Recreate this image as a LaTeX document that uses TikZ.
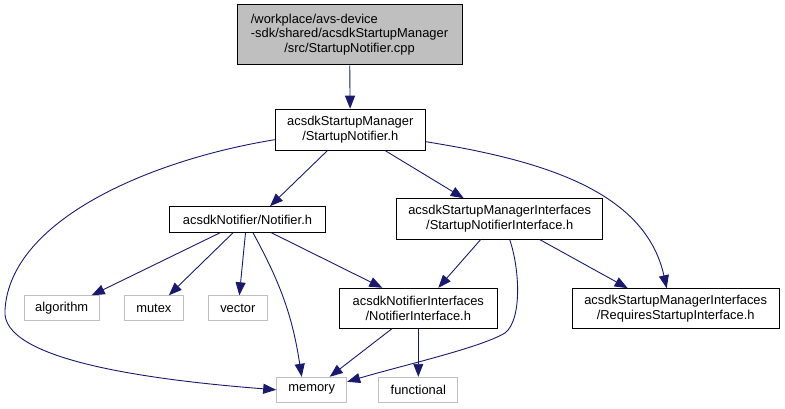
\documentclass[tikz,border=0pt]{standalone}
\usepackage{fontspec}
\setmainfont{Liberation Sans}
\usepackage{xcolor}
\usetikzlibrary{arrows.meta, positioning}

\definecolor{incblue}{HTML}{191970}
\definecolor{sysgray}{HTML}{BFBFBF}

\begin{document}
\begin{tikzpicture} [
	x=1pt, y=-1pt, % pixel grid, y grows downwards
	>={Triangle[length=13pt, width=10pt]}, % filled heads like dot
	every edge/.append style={->}, % every include edge is directed
	font=\fontsize{12.9}{14.7}\selectfont,
	hdr/.style={draw=black, line width=1pt, align=center, inner sep=0pt}, % project headers
	sys/.style={draw=sysgray, line width=1pt, inner sep=0pt, minimum width=59pt, minimum height=25pt}, % system headers
	inc/.style={incblue, line width=0.9pt},
	]
	\useasboundingbox (0,0) rectangle (785,409);

	\node[hdr, fill=sysgray, minimum width=225pt, minimum height=60pt] (cpp) at (349.5,35)
		{\begin{tabular}{@{}c@{}}\multicolumn{1}{@{}l@{}}{/workplace/avs-device}\\-sdk/shared/acsdkStartupManager\\/src/StartupNotifier.cpp\end{tabular}};
	\node[hdr, minimum width=150pt, minimum height=41pt] (notifierH) at (350.3,129.7) {acsdkStartupManager\\/StartupNotifier.h};
	\node[hdr, minimum width=156pt, minimum height=25.6pt] (notifierLib) at (247.5,219.5) {acsdkNotifier/Notifier.h};
	\node[hdr, minimum width=206pt, minimum height=40.3pt] (sniH) at (499.7,218.9) {acsdkStartupManagerInterfaces\\/StartupNotifierInterface.h};
	\node[sys, minimum width=75.3pt] (algorithm) at (61.7,308.3) {algorithm};
	\node[sys, right=24pt of algorithm] (mutex) {mutex};
	\node[sys, right=24pt of mutex] (vector) {vector};
	\node[hdr, minimum width=158pt, minimum height=40pt] (niH) at (418.3,308.3) {acsdkNotifierInterfaces\\/NotifierInterface.h};
	\node[hdr, minimum width=206.7pt, minimum height=39.6pt] (rsiH) at (675.7,308.5) {acsdkStartupManagerInterfaces\\/RequiresStartupInterface.h};
	\node[sys, minimum width=70pt] (memory) at (311.7,389.8) {memory};
	\node[sys, minimum width=78.7pt] (functional) at (418.3,389.8) {functional};

	\coordinate (leftBend) at (5,310);
	\coordinate (sniBend) at (505,333);

	\draw[inc]
		(cpp) edge (notifierH)
		([xshift=-23pt]notifierH.south) edge ([xshift=22.5pt]notifierLib.north)
		([xshift=35pt]notifierH.south) edge ([xshift=-36pt]sniH.north)

		([xshift=-27.5pt]notifierLib.south) edge ([xshift=30pt]algorithm.north)
		([xshift=-14.5pt]notifierLib.south) edge ([xshift=15pt]mutex.north)
		([xshift=-2pt]notifierLib.south) edge ([xshift=1.5pt]vector.north)
		([xshift=5.5pt]notifierLib.south) edge[bend left=10] ([xshift=-10pt]memory.north)
		([xshift=24pt]notifierLib.south) edge ([xshift=-36pt]niH.north)

		([xshift=-19pt]sniH.south) edge ([xshift=20pt]niH.north)
		([xshift=40pt]sniH.south) edge ([xshift=-48pt]rsiH.north)

		([xshift=-26.5pt]niH.south) edge ([xshift=18pt]memory.north)
		(niH) edge (functional)
	;
	\draw[inc, ->] ([yshift=-10pt]notifierH.west) .. controls (150,160) and (10,220) .. (leftBend)
		.. controls (0,360) and (150,380) .. (memory.west);
	\draw[inc, ->] ([yshift=-12pt]notifierH.east) .. controls (540,160) and (645,190) .. ([xshift=-9pt]rsiH.north);
	\draw[inc, ->] ([xshift=10pt]sniH.south) .. controls (520,270) and (522,320) .. (sniBend)
		.. controls (480,348) and (400,366) .. ([yshift=8pt]memory.east);
\end{tikzpicture}
\end{document}
